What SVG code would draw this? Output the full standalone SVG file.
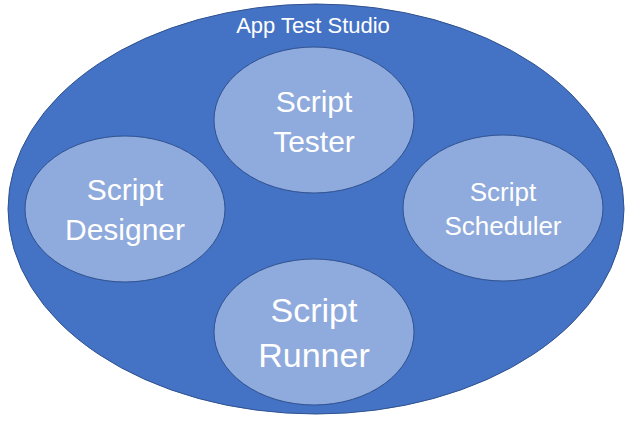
<svg xmlns="http://www.w3.org/2000/svg" width="629" height="425" viewBox="0 0 629 425">
<style>
.outer{fill:#4472C4;stroke:#2F528F;stroke-width:1}
.inner{fill:#8FAADC;stroke:#2F528F;stroke-width:1}
text{font-family:"Liberation Sans",Arial,sans-serif;fill:#FFFFFF;text-anchor:middle}
</style>
<rect width="629" height="425" fill="#FFFFFF"/>
<g id="studio">
<ellipse class="outer" cx="316" cy="209" rx="308" ry="205"/>
<text x="313" y="33" font-size="22">App Test Studio</text>
</g>
<g id="connectors"></g>
<g id="tester">
<ellipse class="inner" cx="314" cy="120" rx="100" ry="73"/>
<text x="314" y="112" font-size="30">Script</text>
<text x="314" y="152" font-size="30">Tester</text>
</g>
<g id="designer">
<ellipse class="inner" cx="125" cy="209" rx="100" ry="73"/>
<text x="125" y="200" font-size="30">Script</text>
<text x="125" y="240" font-size="30">Designer</text>
</g>
<g id="scheduler">
<ellipse class="inner" cx="503" cy="208" rx="100" ry="73"/>
<text x="503" y="201" font-size="26">Script</text>
<text x="503" y="235" font-size="26">Scheduler</text>
</g>
<g id="runner">
<ellipse class="inner" cx="314" cy="332" rx="100" ry="73"/>
<text x="314" y="322" font-size="34">Script</text>
<text x="314" y="367" font-size="34">Runner</text>
</g>
</svg>
